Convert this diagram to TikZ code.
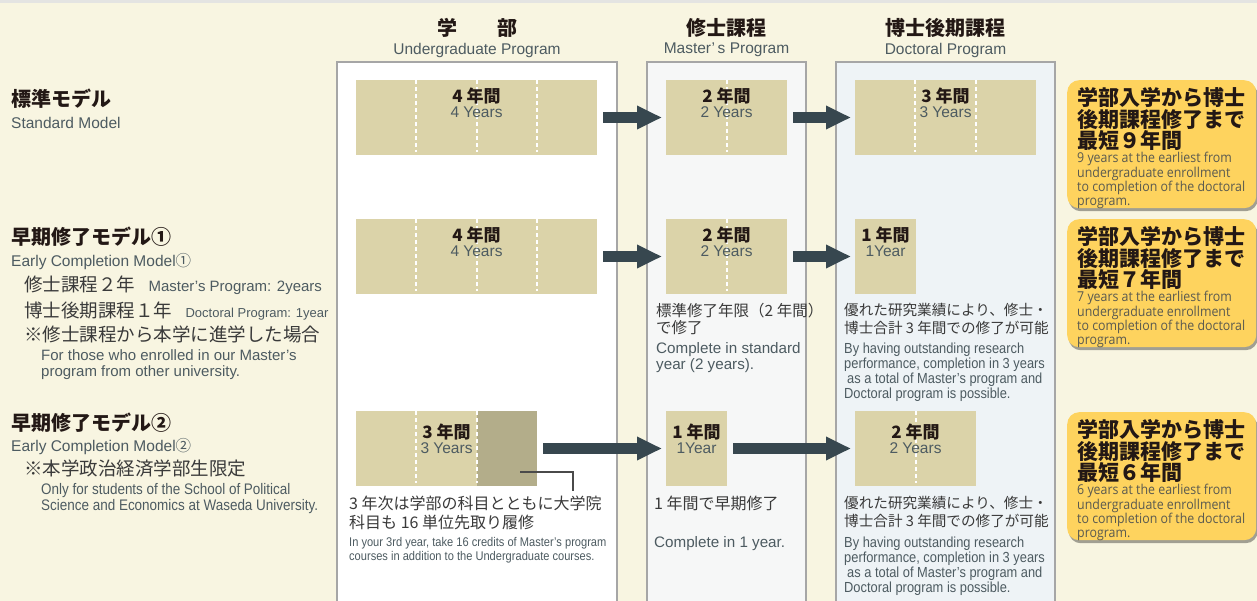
\documentclass[tikz,border=0pt]{standalone}
\usepackage{fontspec}
\setmainfont{Liberation Sans}
\newfontfamily\jp{Noto Sans CJK JP}
\newfontfamily\narrow[FakeStretch=0.88]{Liberation Sans}
\newfontfamily\human[FakeStretch=0.91]{Open Sans}
\usetikzlibrary{arrows.meta,calc,positioning,shadows}
\definecolor{cream}{HTML}{F8F5E1}
\definecolor{topgray}{HTML}{E4E4E2}
\definecolor{colline}{HTML}{A6A6A6}
\definecolor{msfill}{HTML}{F6F7F7}
\definecolor{drfill}{HTML}{EEF3F6}
\definecolor{barc}{HTML}{DBD3A9}
\definecolor{bardark}{HTML}{B3AD8A}
\definecolor{flowc}{HTML}{37474F}
\definecolor{leadc}{HTML}{4A4A4A}
\definecolor{ink}{HTML}{231815}
\definecolor{ink2}{HTML}{3A3A3A}
\definecolor{slate}{HTML}{4D5B61}
\definecolor{goalc}{HTML}{FED35E}
\definecolor{goaltext}{HTML}{5A5A50}

\begin{document}
\begin{tikzpicture}[x=1pt,y=-1pt]
\tikzset{
  column/.style={draw=colline, line width=1.3pt, anchor=north west, inner sep=0pt, outer sep=0pt, minimum height=560pt},
  bar/.style={fill=barc, anchor=north west, inner sep=0pt, outer sep=0pt, minimum height=75pt},
  tick/.style={draw=white, line width=2pt, dash pattern=on 4pt off 3pt, shorten >=3pt},
  flow/.style={draw=flowc, line width=11pt, -{Triangle[length=25pt,width=22pt]}},
  leader/.style={draw=leadc, line width=1.3pt},
  hdjp/.style={font=\jp\bfseries\fontsize{20}{22}\selectfont, text=ink, inner sep=0pt},
  hden/.style={font=\fontsize{15.5}{17}\selectfont, text=slate, inner sep=0pt},
  yrjp/.style={font=\jp\bfseries\fontsize{17}{19}\selectfont, text=ink, inner sep=0pt},
  yren/.style={font=\fontsize{15.5}{17}\selectfont, text=slate, inner sep=0pt},
  txt/.style={anchor=north west, inner sep=0pt, align=left},
  model/.style={txt, font=\jp\bfseries\fontsize{20}{22}\selectfont, text=ink},
  modelen/.style={txt, font=\fontsize{15.5}{17}\selectfont, text=slate},
  cond/.style={txt, font=\jp\fontsize{18.5}{20}\selectfont, text=ink2},
  condsub/.style={inner sep=0pt, anchor=base west, font=\fontsize{15}{17}\selectfont, text=slate},
  condnote/.style={txt, font=\fontsize{15}{15.5}\selectfont, text=slate},
  notejp/.style={txt, font=\jp\fontsize{15.5}{17}\selectfont, text=ink2},
  noteen/.style={txt, font=\fontsize{15.2}{15.5}\selectfont, text=slate},
  drjp/.style={txt, font=\jp\fontsize{14.6}{18}\selectfont, text=ink2},
  dren/.style={txt, font=\narrow\fontsize{14.6}{15}\selectfont, text=slate},
  goal/.style={fill=goalc, rounded corners=12pt, anchor=north west, inner sep=0pt, minimum width=189pt, minimum height=128pt,
    drop shadow={shadow xshift=1.5pt, shadow yshift=-3pt, opacity=0.35, fill=black}},
  goaljp/.style={txt, font=\jp\bfseries\fontsize{21}{21.5}\selectfont, text=ink},
  goalen/.style={txt, font=\human\fontsize{13.6}{13.3}\selectfont, text=goaltext}
}
\useasboundingbox (0,0) rectangle (1257,601);
\clip (0,0) rectangle (1257,601);
\fill[cream] (0,0) rectangle (1257,601);
\fill[topgray] (0,0) rectangle (1257,3);

% columns
\node[column, fill=white, minimum width=280pt] (colUG) at (337,62) {};
\node[column, fill=msfill, minimum width=159pt] (colMS) at (647,62) {};
\node[column, fill=drfill, minimum width=219pt] (colDR) at (836,62) {};
\node[hdjp] (hUG) at ([yshift=34pt]colUG.north) {学\hspace{2em}部};
\node[hden] (hUGe) at ([yshift=12pt]colUG.north) {Undergraduate Program};
\node[hdjp] (hMS) at ([yshift=34pt]colMS.north) {修士課程};
\node[hden] (hMSe) at ([yshift=12pt]colMS.north) {Master’\,s Program};
\node[hdjp] (hDR) at ([yshift=34pt]colDR.north) {博士後期課程};
\node[hden] (hDRe) at ([yshift=12pt]colDR.north) {Doctoral Program};

% bars
\node[bar, minimum width=241pt] (ug1) at (356,80) {};
\node[bar, minimum width=121pt] (ms1) at (666,80) {};
\node[bar, minimum width=181pt] (dr1) at (855,80) {};
\node[bar, minimum width=241pt] (ug2) at (356,219) {};
\node[bar, minimum width=121pt] (ms2) at (666,219) {};
\node[bar, minimum width=61pt] (dr2) at (855,219) {};
\node[bar, minimum width=181pt] (ug3) at (356,411) {};
\node[bar, fill=bardark, minimum width=60pt, anchor=north east] (ug3d) at (ug3.north east) {};
\node[bar, minimum width=61pt] (ms3) at (666,411) {};
\node[bar, minimum width=121pt] (dr3) at (855,411) {};

\foreach \bname/\yr/\eng/\dy in {ug1/4/4 Years/16, ms1/2/2 Years/16, dr1/3/3 Years/16,
    ug2/4/4 Years/16, ms2/2/2 Years/16, dr2/1/1Year/16,
    ug3/3/3 Years/21, ms3/1/1Year/21, dr3/2/2 Years/21}{
  \pgfmathtruncatemacro\lastk{\yr-1}
  \ifnum\lastk>0
    \foreach \k in {1,...,\lastk}
      \draw[tick] ($(\bname.north west)!\k/\yr!(\bname.north east)$) -- ($(\bname.south west)!\k/\yr!(\bname.south east)$);
  \fi
  \node[yrjp] at ([yshift=-\dy pt]\bname.north) {\yr\ 年間};
  \node[yren] at ([yshift={-(\dy+16)}]\bname.north) {\eng};
}

% arrows
\draw[flow] ([xshift=6pt]ug1.east) -- ([xshift=-4pt]ms1.west);
\draw[flow] ([xshift=6pt]ms1.east) -- ([xshift=-4pt]dr1.west);
\draw[flow] ([xshift=6pt]ug2.east) -- ([xshift=-4pt]ms2.west);
\draw[flow] ([xshift=6pt]ms2.east) -- ([xshift=-4pt]dr2.west);
\draw[flow] ([xshift=6pt]ug3.east) -- ([xshift=-4pt]ms3.west);
\draw[flow] ([xshift=6pt]ms3.east) -- ([xshift=-4pt]dr3.west);

% models
\node[model] (m0) at (11,89) {標準モデル};
\node[modelen] (m0e) at (11,117) {Standard Model};
\node[model] (m1) at (11,227) {早期修了モデル①};
\node[modelen] (m1e) at (11,253) {Early Completion Model{\jp ①}};
\node[cond] (m1a) at (24,276) {修士課程２年};
\node[condsub] (m1ae) at ([xshift=13pt]m1a.base east) {Master’s Program: 2years};
\node[cond] (m1b) at (24,302) {博士後期課程１年};
\node[condsub, font=\fontsize{13}{15}\selectfont] (m1be) at ([xshift=13pt]m1b.base east) {Doctoral Program: 1year};
\node[cond] (m1c) at (24,326) {※修士課程から本学に進学した場合};
\node[condnote] (m1d) at (41,349.5) {For those who enrolled in our Master’s\\program from other university.};
\node[model] (m2) at (11,413) {早期修了モデル②};
\node[modelen] (m2e) at (11,438) {Early Completion Model{\jp ②}};
\node[cond] (m2a) at (24,460) {※本学政治経済学部生限定};
\node[condnote, font=\narrow\fontsize{15.3}{15.5}\selectfont] (m2b) at (41,483.5) {Only for students of the School of Political\\Science and Economics at Waseda University.};

% notes
\node[notejp] (n2ms) at (656,303) {標準修了年限（2 年間）\\で修了};
\node[noteen] (n2mse) at (656,342.5) {Complete in standard\\year (2 years).};
\node[drjp] (n2dr) at (844,303.5) {優れた研究業績により、修士・\\博士合計 3 年間での修了が可能};
\node[dren] (n2dre) at (844,342.5) {By having outstanding research\\performance, completion in 3 years\\\hspace*{3pt}as a total of Master’s program and\\Doctoral program is possible.};
\node[notejp, font=\jp\fontsize{16}{19}\selectfont] (n3ug) at (349,496) {3 年次は学部の科目とともに大学院\\科目も 16 単位先取り履修};
\node[dren, font=\narrow\fontsize{12.6}{14}\selectfont] (n3uge) at (349,537) {In your 3rd year, take 16 credits of Master’s program\\courses in addition to the Undergraduate courses.};
\node[notejp, font=\jp\fontsize{16}{19}\selectfont] (n3ms) at (654,496) {1 年間で早期修了};
\node[noteen] (n3mse) at (654,536.5) {Complete in 1 year.};
\node[drjp] (n3dr) at (844,496.5) {優れた研究業績により、修士・\\博士合計 3 年間での修了が可能};
\node[dren] (n3dre) at (844,536.5) {By having outstanding research\\performance, completion in 3 years\\\hspace*{3pt}as a total of Master’s program and\\Doctoral program is possible.};

% leader
\coordinate (ldA) at (520,472);
\coordinate (ldB) at (573,491);
\draw[leader] (ldA) -| (ldB);

% goals
\node[goal] (g1) at (1067,80) {};
\node[goaljp] at ([xshift=10pt,yshift=-7.5pt]g1.north west) {学部入学から博士\\後期課程修了まで\\最短９年間};
\node[goalen] at ([xshift=10pt,yshift=-72pt]g1.north west) {9 years at the earliest from\\undergraduate enrollment\\to completion of the doctoral\\program.};
\node[goal] (g2) at (1067,219) {};
\node[goaljp] at ([xshift=10pt,yshift=-7.5pt]g2.north west) {学部入学から博士\\後期課程修了まで\\最短７年間};
\node[goalen] at ([xshift=10pt,yshift=-72pt]g2.north west) {7 years at the earliest from\\undergraduate enrollment\\to completion of the doctoral\\program.};
\node[goal] (g3) at (1067,412) {};
\node[goaljp] at ([xshift=10pt,yshift=-7.5pt]g3.north west) {学部入学から博士\\後期課程修了まで\\最短６年間};
\node[goalen] at ([xshift=10pt,yshift=-72pt]g3.north west) {6 years at the earliest from\\undergraduate enrollment\\to completion of the doctoral\\program.};
\end{tikzpicture}
\end{document}
